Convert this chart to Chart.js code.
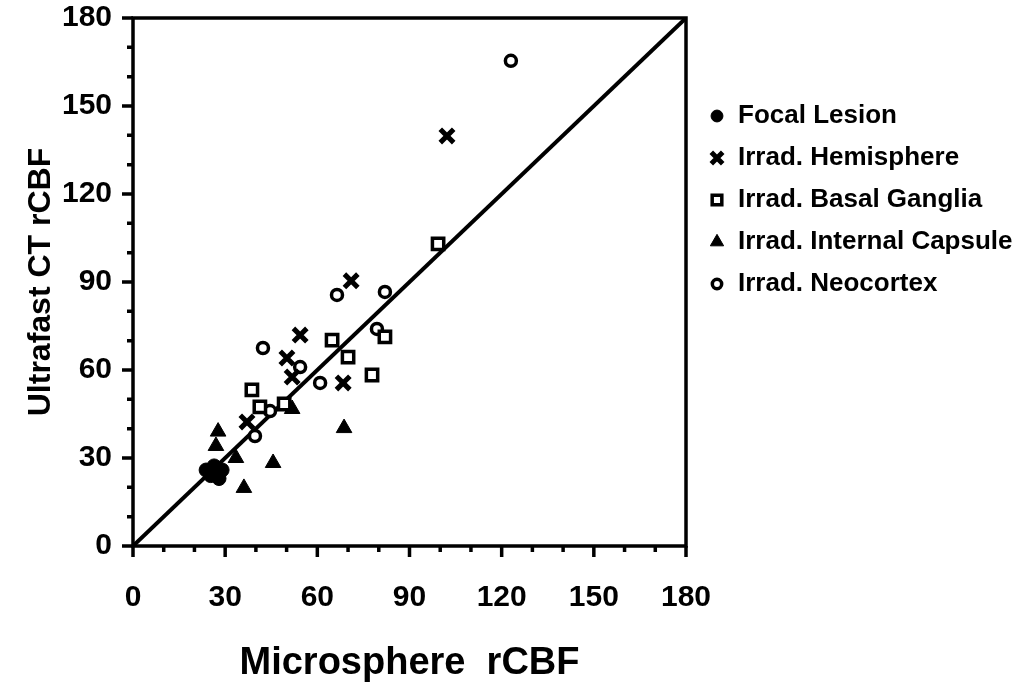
<!DOCTYPE html>
<html>
<head>
<meta charset="utf-8">
<script src="https://cdn.jsdelivr.net/npm/chart.js@4.4.1/dist/chart.umd.min.js"></script>
<style>
html, body { margin: 0; padding: 0; background: #fff; }
#wrap { width: 1022px; height: 689px; position: relative; }
</style>
</head>
<body>
<div id="wrap"><canvas id="c"></canvas></div>
<script>
// values
const focalX = [23.8, 26.4, 29.0, 28.0, 25.3];
const focalY = [25.9, 27.3, 25.9, 23.0, 24.0];

const hemiX = [102.2, 71.0, 54.4, 50.1, 51.8, 68.4, 37.1];
const hemiY = [139.8, 90.4, 71.9, 64.1, 57.6, 55.6, 42.3];

const basalX = [99.3, 64.8, 70.0, 82.0, 77.8, 38.7, 41.3, 49.2];
const basalY = [103.0, 70.2, 64.4, 71.3, 58.3, 53.2, 47.4, 48.4];

const capsX = [68.7, 45.6, 36.1, 51.8, 27.7, 27.0, 33.5];
const capsY = [40.2, 28.3, 19.8, 46.7, 39.0, 34.1, 30.0];

const neoX = [123.0, 66.4, 82.0, 42.3, 54.4, 60.9, 79.4, 44.6, 39.7];
const neoY = [165.4, 85.6, 86.6, 67.5, 61.0, 55.6, 74.0, 46.0, 37.5];

const identityX = [0, 180];
const identityY = [0, 180];

const seriesNames = ['Focal Lesion', 'Irrad. Hemisphere', 'Irrad. Basal Ganglia', 'Irrad. Internal Capsule', 'Irrad. Neocortex'];
const axisMin = 0, axisMax = 180, majorStep = 30, minorStep = 10;

function pts(xs, ys) { return xs.map((x, i) => ({ x: x, y: ys[i] })); }

const FONT = "'Liberation Sans', Arial, Helvetica, sans-serif";

// frame + major/minor ticks
const framePlugin = {
    id: 'frame',
    afterDraw(chart) {
        const ctx = chart.ctx;
        const a = chart.chartArea;
        const xs = chart.scales.x, ys = chart.scales.y;
        ctx.save();
        ctx.strokeStyle = '#000';
        ctx.lineWidth = 3.5;
        ctx.strokeRect(a.left, a.top, a.right - a.left, a.bottom - a.top);
        ctx.beginPath();
        for (let v = axisMin; v <= axisMax; v += minorStep) {
            const len = v % majorStep === 0 ? 11 : 6;
            const px = xs.getPixelForValue(v);
            ctx.moveTo(px, a.bottom);
            ctx.lineTo(px, a.bottom + len);
            const py = ys.getPixelForValue(v);
            ctx.moveTo(a.left, py);
            ctx.lineTo(a.left - len, py);
        }
        ctx.stroke();
        ctx.restore();
    }
};

// legend at right, drawn with the datasets' own point styles
const sideLegend = {
    id: 'sideLegend',
    afterDraw(chart) {
        const ctx = chart.ctx;
        const x0 = 717, tx = 738, y0 = 116, gap = 42;
        ctx.save();
        ctx.font = "bold 26px " + FONT;
        ctx.textBaseline = 'middle';
        ctx.textAlign = 'left';
        seriesNames.forEach((name, i) => {
            const ds = chart.data.datasets[i];
            const y = y0 + i * gap;
            ctx.fillStyle = ds.backgroundColor;
            ctx.strokeStyle = ds.borderColor;
            ctx.lineWidth = ds.borderWidth;
            Chart.helpers.drawPoint(ctx, {
                pointStyle: ds.pointStyle,
                radius: ds.pointRadius * 0.85,
                rotation: 0,
                borderWidth: ds.borderWidth
            }, x0, y);
            ctx.fillStyle = '#000';
            ctx.fillText(name, tx, y);
        });
        ctx.restore();
    }
};

const ctx = document.getElementById('c');
new Chart(ctx, {
    type: 'scatter',
    data: {
        datasets: [
            { label: seriesNames[0], data: pts(focalX, focalY), pointStyle: 'circle', pointRadius: 7,
              backgroundColor: '#000', borderColor: '#000', borderWidth: 1 },
            { label: seriesNames[1], data: pts(hemiX, hemiY), pointStyle: 'crossRot', pointRadius: 9.5,
              backgroundColor: '#000', borderColor: '#000', borderWidth: 5 },
            { label: seriesNames[2], data: pts(basalX, basalY), pointStyle: 'rect', pointRadius: 8,
              backgroundColor: '#fff', borderColor: '#000', borderWidth: 3.5 },
            { label: seriesNames[3], data: pts(capsX, capsY), pointStyle: 'triangle', pointRadius: 9,
              backgroundColor: '#000', borderColor: '#000', borderWidth: 1 },
            { label: seriesNames[4], data: pts(neoX, neoY), pointStyle: 'circle', pointRadius: 5.5,
              backgroundColor: '#fff', borderColor: '#000', borderWidth: 3.5 },
            { type: 'line', label: 'identity', data: pts(identityX, identityY),
              borderColor: '#000', borderWidth: 4, pointRadius: 0, fill: false }
        ]
    },
    options: {
        responsive: true,
        maintainAspectRatio: false,
        animation: false,
        events: [],
        layout: { padding: { top: 0, right: 336, left: 0, bottom: 0 } },
        plugins: {
            legend: { display: false },
            tooltip: { enabled: false }
        },
        scales: {
            x: {
                type: 'linear', min: axisMin, max: axisMax,
                afterFit(scale) { scale.height = 143; scale.paddingRight = 0; scale.paddingLeft = 0; },
                grid: { display: true, drawOnChartArea: false, drawTicks: false },
                border: { display: false },
                ticks: { stepSize: majorStep, padding: 34, color: '#000', font: { family: FONT, size: 30, weight: 'bold' } },
                title: { display: true, text: 'Microsphere  rCBF', color: '#000',
                         font: { family: FONT, size: 38, weight: 'bold' }, padding: { top: 0, bottom: 3 } }
            },
            y: {
                type: 'linear', min: axisMin, max: axisMax,
                afterFit(scale) { scale.width = 133; scale.paddingTop = 18; scale.paddingBottom = 0; },
                grid: { display: true, drawOnChartArea: false, drawTicks: false },
                border: { display: false },
                ticks: { stepSize: majorStep, padding: 21, color: '#000', font: { family: FONT, size: 30, weight: 'bold' } },
                title: { display: true, text: 'Ultrafast CT rCBF', color: '#000',
                         font: { family: FONT, size: 32, weight: 'bold' }, padding: { top: 22, bottom: 0 } }
            }
        }
    },
    plugins: [framePlugin, sideLegend]
});
</script>
</body>
</html>
